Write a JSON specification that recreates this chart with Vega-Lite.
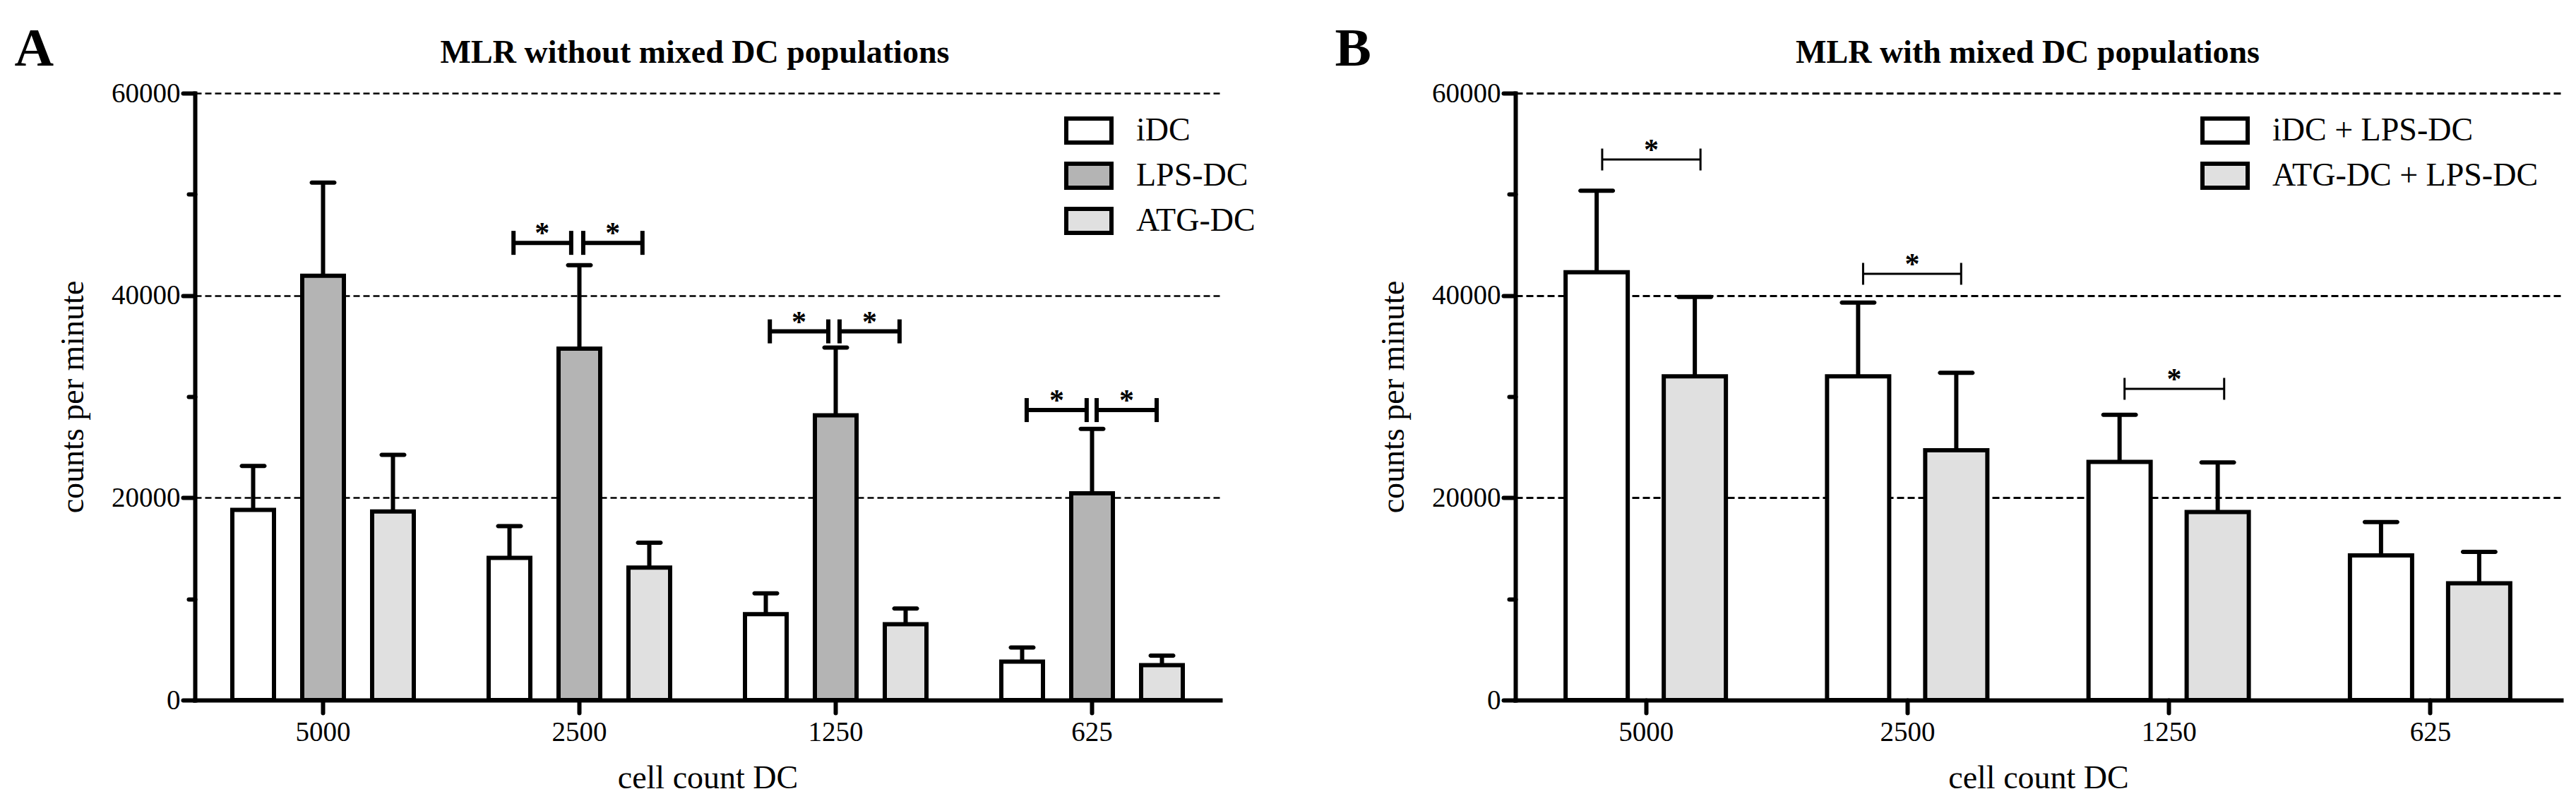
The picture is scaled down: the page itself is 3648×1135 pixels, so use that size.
{
  "$schema": "https://vega.github.io/schema/vega-lite/v6.json",
  "background": "white",
  "padding": {"left": 20, "top": 31, "right": 5, "bottom": 5},
  "config": {
    "font": "Liberation Serif",
    "view": {"stroke": null},
    "axis": {
      "labelFont": "Liberation Serif",
      "titleFont": "Liberation Serif",
      "labelColor": "black",
      "titleColor": "black",
      "domainColor": "black",
      "tickColor": "black",
      "titleFontWeight": "normal",
      "domainWidth": 6,
      "tickWidth": 6,
      "domainCap": "square",
      "tickCap": "round"
    },
    "legend": {"labelFont": "Liberation Serif", "labelColor": "black", "labelLimit": 0},
    "title": {"font": "Liberation Serif", "color": "black"}
  },
  "datasets": {
    "mlrA": [
      {"dc": "5000", "group": "iDC", "cpm": 18800, "upper": 23150},
      {"dc": "5000", "group": "LPS-DC", "cpm": 41950, "upper": 51150},
      {"dc": "5000", "group": "ATG-DC", "cpm": 18650, "upper": 24250},
      {"dc": "2500", "group": "iDC", "cpm": 14050, "upper": 17200},
      {"dc": "2500", "group": "LPS-DC", "cpm": 34750, "upper": 43000},
      {"dc": "2500", "group": "ATG-DC", "cpm": 13100, "upper": 15550},
      {"dc": "1250", "group": "iDC", "cpm": 8500, "upper": 10550},
      {"dc": "1250", "group": "LPS-DC", "cpm": 28150, "upper": 34850},
      {"dc": "1250", "group": "ATG-DC", "cpm": 7500, "upper": 9050},
      {"dc": "625", "group": "iDC", "cpm": 3800, "upper": 5200},
      {"dc": "625", "group": "LPS-DC", "cpm": 20450, "upper": 26800},
      {"dc": "625", "group": "ATG-DC", "cpm": 3450, "upper": 4400}
    ],
    "sigA": [
      {"dc": "2500", "x": 1.243, "x2": 1.468, "sx": 1.355, "y": 45200},
      {"dc": "2500", "x": 1.515, "x2": 1.746, "sx": 1.63, "y": 45200},
      {"dc": "1250", "x": 2.243, "x2": 2.471, "sx": 2.357, "y": 36450},
      {"dc": "1250", "x": 2.515, "x2": 2.749, "sx": 2.632, "y": 36450},
      {"dc": "625", "x": 3.245, "x2": 3.479, "sx": 3.362, "y": 28670},
      {"dc": "625", "x": 3.518, "x2": 3.752, "sx": 3.635, "y": 28670}
    ],
    "mlrB": [
      {"dc": "5000", "group": "iDC + LPS-DC", "cpm": 42300, "upper": 50350},
      {"dc": "5000", "group": "ATG-DC + LPS-DC", "cpm": 32000, "upper": 39850},
      {"dc": "2500", "group": "iDC + LPS-DC", "cpm": 32000, "upper": 39300},
      {"dc": "2500", "group": "ATG-DC + LPS-DC", "cpm": 24700, "upper": 32350},
      {"dc": "1250", "group": "iDC + LPS-DC", "cpm": 23550, "upper": 28200},
      {"dc": "1250", "group": "ATG-DC + LPS-DC", "cpm": 18600, "upper": 23500},
      {"dc": "625", "group": "iDC + LPS-DC", "cpm": 14300, "upper": 17600},
      {"dc": "625", "group": "ATG-DC + LPS-DC", "cpm": 11550, "upper": 14650}
    ],
    "sigB": [
      {"dc": "5000", "x": 0.332, "x2": 0.708, "sx": 0.52, "y": 53440},
      {"dc": "2500", "x": 1.33, "x2": 1.705, "sx": 1.518, "y": 42140},
      {"dc": "1250", "x": 2.33, "x2": 2.711, "sx": 2.52, "y": 30770}
    ]
  },
  "resolve": {"scale": {"fill": "independent", "x": "independent", "y": "independent"}, "legend": {"fill": "independent"}},
  "spacing": 112,
  "hconcat": [
    {
      "title": {"text": "A", "anchor": "start", "fontSize": 77, "fontWeight": "bold", "baseline": "alphabetic", "offset": 0, "dx": -60, "dy": 118},
      "hconcat": [
        {
          "title": {"text": "MLR without mixed DC populations", "fontSize": 46, "fontWeight": "bold", "baseline": "alphabetic", "offset": -22, "dx": -18},
          "width": 1452,
          "height": 860,
          "resolve": {"scale": {"x": "independent"}},
          "layer": [
            {
              "data": {"name": "mlrA"},
              "encoding": {
                "x": {
                  "field": "dc", "type": "nominal", "sort": ["5000", "2500", "1250", "625"],
                  "scale": {"paddingInner": 0, "paddingOuter": 0},
                  "axis": {"title": "cell count DC", "titleFontSize": 46, "titlePadding": 23, "labelFontSize": 39, "labelAngle": 0, "labelPadding": 8, "tickSize": 18, "grid": false}
                },
                "y": {
                  "field": "cpm", "type": "quantitative",
                  "scale": {"domain": [0, 60000], "nice": false},
                  "axis": {
                    "title": "counts per minute", "titleFontSize": 46, "titlePadding": 30,
                    "values": [0, 10000, 20000, 30000, 40000, 50000, 60000],
                    "format": "d",
                    "labelExpr": "datum.value % 20000 === 0 ? datum.label : ''",
                    "labelFontSize": 39, "labelPadding": 4,
                    "tickSize": {"condition": {"test": "datum.value % 20000 === 0", "value": 17}, "value": 9},
                    "grid": true, "gridColor": "black", "gridDash": [9, 5], "gridWidth": 2.5,
                    "gridOpacity": {"condition": {"test": "datum.value % 20000 === 0 && datum.value > 0", "value": 1}, "value": 0}
                  }
                }
              },
              "layer": [
                {
                  "transform": [{"filter": "datum.group === 'iDC'"}],
                  "layer": [
                    {
                      "mark": {"type": "bar", "width": 59, "xOffset": -99, "stroke": "black", "strokeWidth": 6, "strokeJoin": "miter"},
                      "encoding": {
                        "fill": {
                          "field": "group", "type": "nominal",
                          "scale": {"domain": ["iDC", "LPS-DC", "ATG-DC"], "range": ["#ffffff", "#b4b4b4", "#e0e0e0"]},
                          "legend": {
                            "title": null, "orient": "none", "legendX": 1231, "legendY": 18,
                            "labelFontSize": 46, "symbolType": "M-1,-0.53H1V0.53H-1Z", "symbolSize": 4096,
                            "symbolStrokeColor": "black", "symbolStrokeWidth": 6, "labelOffset": 32,
                            "rowPadding": 0, "padding": 0
                          }
                        }
                      }
                    },
                    {"mark": {"type": "rule", "xOffset": -99, "strokeWidth": 6, "color": "black"}, "encoding": {"y2": {"field": "upper"}}},
                    {"mark": {"type": "tick", "xOffset": -99, "thickness": 6, "size": 38, "color": "black", "opacity": 1, "cornerRadius": 3}, "encoding": {"y": {"field": "upper", "type": "quantitative", "title": "counts per minute"}}}
                  ]
                },
                {
                  "transform": [{"filter": "datum.group === 'LPS-DC'"}],
                  "layer": [
                    {
                      "mark": {"type": "bar", "width": 59, "xOffset": 0, "stroke": "black", "strokeWidth": 6, "strokeJoin": "miter"},
                      "encoding": {"fill": {"field": "group", "type": "nominal", "scale": {"domain": ["iDC", "LPS-DC", "ATG-DC"], "range": ["#ffffff", "#b4b4b4", "#e0e0e0"]}}}
                    },
                    {"mark": {"type": "rule", "xOffset": 0, "strokeWidth": 6, "color": "black"}, "encoding": {"y2": {"field": "upper"}}},
                    {"mark": {"type": "tick", "xOffset": 0, "thickness": 6, "size": 38, "color": "black", "opacity": 1, "cornerRadius": 3}, "encoding": {"y": {"field": "upper", "type": "quantitative", "title": "counts per minute"}}}
                  ]
                },
                {
                  "transform": [{"filter": "datum.group === 'ATG-DC'"}],
                  "layer": [
                    {
                      "mark": {"type": "bar", "width": 59, "xOffset": 99, "stroke": "black", "strokeWidth": 6, "strokeJoin": "miter"},
                      "encoding": {"fill": {"field": "group", "type": "nominal", "scale": {"domain": ["iDC", "LPS-DC", "ATG-DC"], "range": ["#ffffff", "#b4b4b4", "#e0e0e0"]}}}
                    },
                    {"mark": {"type": "rule", "xOffset": 99, "strokeWidth": 6, "color": "black"}, "encoding": {"y2": {"field": "upper"}}},
                    {"mark": {"type": "tick", "xOffset": 99, "thickness": 6, "size": 38, "color": "black", "opacity": 1, "cornerRadius": 3}, "encoding": {"y": {"field": "upper", "type": "quantitative", "title": "counts per minute"}}}
                  ]
                }
              ]
            },
            {
              "data": {"name": "sigA"},
              "encoding": {
                "y": {"field": "y", "type": "quantitative", "title": "counts per minute", "scale": {"domain": [0, 60000], "nice": false}}
              },
              "layer": [
                {
                  "mark": {"type": "rule", "strokeWidth": 6, "color": "black"},
                  "encoding": {
                    "x": {"field": "x", "type": "quantitative", "scale": {"domain": [0, 4], "nice": false, "zero": false}, "axis": null},
                    "x2": {"field": "x2"}
                  }
                },
                {
                  "mark": {"type": "tick", "orient": "vertical", "thickness": 6, "size": 34, "color": "black", "opacity": 1},
                  "encoding": {"x": {"field": "x", "type": "quantitative", "axis": null}}
                },
                {
                  "mark": {"type": "tick", "orient": "vertical", "thickness": 6, "size": 34, "color": "black", "opacity": 1},
                  "encoding": {"x": {"field": "x2", "type": "quantitative", "axis": null}}
                },
                {
                  "mark": {"type": "text", "text": "*", "fontSize": 42, "fontWeight": "bold", "baseline": "alphabetic", "color": "black"},
                  "encoding": {"x": {"field": "sx", "type": "quantitative", "axis": null}}
                }
              ]
            }
          ]
        }
      ]
    },
    {
      "title": {"text": "B", "anchor": "start", "fontSize": 77, "fontWeight": "bold", "baseline": "alphabetic", "offset": 0, "dx": -60, "dy": 118},
      "hconcat": [
        {
          "title": {"text": "MLR with mixed DC populations", "fontSize": 46, "fontWeight": "bold", "baseline": "alphabetic", "offset": -22, "dx": -15},
          "width": 1481,
          "height": 860,
          "resolve": {"scale": {"x": "independent"}},
          "layer": [
            {
              "data": {"name": "mlrB"},
              "encoding": {
                "x": {
                  "field": "dc", "type": "nominal", "sort": ["5000", "2500", "1250", "625"],
                  "scale": {"paddingInner": 0, "paddingOuter": 0},
                  "axis": {"title": "cell count DC", "titleFontSize": 46, "titlePadding": 23, "labelFontSize": 39, "labelAngle": 0, "labelPadding": 8, "tickSize": 18, "grid": false}
                },
                "y": {
                  "field": "cpm", "type": "quantitative",
                  "scale": {"domain": [0, 60000], "nice": false},
                  "axis": {
                    "title": "counts per minute", "titleFontSize": 46, "titlePadding": 30,
                    "values": [0, 10000, 20000, 30000, 40000, 50000, 60000],
                    "format": "d",
                    "labelExpr": "datum.value % 20000 === 0 ? datum.label : ''",
                    "labelFontSize": 39, "labelPadding": 4,
                    "tickSize": {"condition": {"test": "datum.value % 20000 === 0", "value": 17}, "value": 9},
                    "grid": true, "gridColor": "black", "gridDash": [10, 5], "gridWidth": 3,
                    "gridOpacity": {"condition": {"test": "datum.value % 20000 === 0 && datum.value > 0", "value": 1}, "value": 0}
                  }
                }
              },
              "layer": [
                {
                  "transform": [{"filter": "datum.group === 'iDC + LPS-DC'"}],
                  "layer": [
                    {
                      "mark": {"type": "bar", "width": 88, "xOffset": -70, "stroke": "black", "strokeWidth": 6, "strokeJoin": "miter"},
                      "encoding": {
                        "fill": {
                          "field": "group", "type": "nominal",
                          "scale": {"domain": ["iDC + LPS-DC", "ATG-DC + LPS-DC"], "range": ["#ffffff", "#e0e0e0"]},
                          "legend": {
                            "title": null, "orient": "none", "legendX": 970, "legendY": 18,
                            "labelFontSize": 46, "symbolType": "M-1,-0.53H1V0.53H-1Z", "symbolSize": 4096,
                            "symbolStrokeColor": "black", "symbolStrokeWidth": 6, "labelOffset": 32,
                            "rowPadding": 0, "padding": 0
                          }
                        }
                      }
                    },
                    {"mark": {"type": "rule", "xOffset": -70, "strokeWidth": 6, "color": "black"}, "encoding": {"y2": {"field": "upper"}}},
                    {"mark": {"type": "tick", "xOffset": -70, "thickness": 6, "size": 52, "color": "black", "opacity": 1, "cornerRadius": 3}, "encoding": {"y": {"field": "upper", "type": "quantitative", "title": "counts per minute"}}}
                  ]
                },
                {
                  "transform": [{"filter": "datum.group === 'ATG-DC + LPS-DC'"}],
                  "layer": [
                    {
                      "mark": {"type": "bar", "width": 88, "xOffset": 69, "stroke": "black", "strokeWidth": 6, "strokeJoin": "miter"},
                      "encoding": {"fill": {"field": "group", "type": "nominal", "scale": {"domain": ["iDC + LPS-DC", "ATG-DC + LPS-DC"], "range": ["#ffffff", "#e0e0e0"]}}}
                    },
                    {"mark": {"type": "rule", "xOffset": 69, "strokeWidth": 6, "color": "black"}, "encoding": {"y2": {"field": "upper"}}},
                    {"mark": {"type": "tick", "xOffset": 69, "thickness": 6, "size": 52, "color": "black", "opacity": 1, "cornerRadius": 3}, "encoding": {"y": {"field": "upper", "type": "quantitative", "title": "counts per minute"}}}
                  ]
                }
              ]
            },
            {
              "data": {"name": "sigB"},
              "encoding": {
                "y": {"field": "y", "type": "quantitative", "title": "counts per minute", "scale": {"domain": [0, 60000], "nice": false}}
              },
              "layer": [
                {
                  "mark": {"type": "rule", "strokeWidth": 3, "color": "black"},
                  "encoding": {
                    "x": {"field": "x", "type": "quantitative", "scale": {"domain": [0, 4], "nice": false, "zero": false}, "axis": null},
                    "x2": {"field": "x2"}
                  }
                },
                {
                  "mark": {"type": "tick", "orient": "vertical", "thickness": 3, "size": 31, "color": "black", "opacity": 1},
                  "encoding": {"x": {"field": "x", "type": "quantitative", "axis": null}}
                },
                {
                  "mark": {"type": "tick", "orient": "vertical", "thickness": 3, "size": 31, "color": "black", "opacity": 1},
                  "encoding": {"x": {"field": "x2", "type": "quantitative", "axis": null}}
                },
                {
                  "mark": {"type": "text", "text": "*", "fontSize": 42, "fontWeight": "bold", "baseline": "alphabetic", "color": "black"},
                  "encoding": {"x": {"field": "sx", "type": "quantitative", "axis": null}}
                }
              ]
            }
          ]
        }
      ]
    }
  ]
}
